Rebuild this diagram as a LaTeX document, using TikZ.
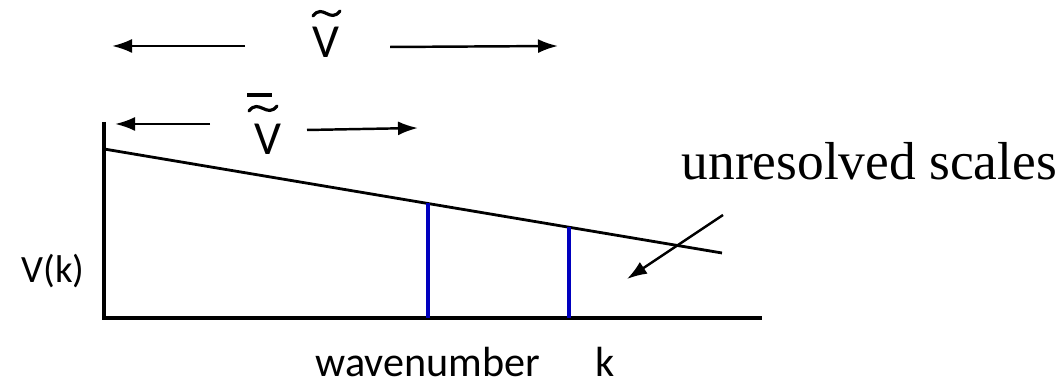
\documentclass[tikz,border=0pt]{standalone}
\usepackage{fontspec}
\setmainfont{Carlito}
\newfontfamily\timesfont{Liberation Serif}
\usetikzlibrary{arrows.meta,calc}

\tikzset{
  axis/.style={line width=0.9pt},
  span/.style={line width=0.7pt, -{Latex[length=2mm, width=1.4mm]}},
  cutoff/.style={line width=1.2pt, blue!75!black},
  lbl/.style={inner sep=0pt, font=\fontsize{12}{14}\selectfont},
  vlbl/.style={inner sep=0pt, font=\fontsize{13.5}{16}\selectfont},
  accent/.style={line width=0.9pt, line cap=round}
}

\begin{document}
\begin{tikzpicture}

\useasboundingbox (0,0) rectangle (10.6,3.85);

% axes
\coordinate (o) at (1.04,0.67);
\coordinate (ytop) at (1.04,2.63);
\coordinate (xend) at (7.62,0.67);
\draw[axis] (ytop) -- (o) -- (xend);

% spectrum
\coordinate (s0) at (1.04,2.36);
\coordinate (s1) at (7.22,1.32);
\draw[line width=0.8pt] (s0) -- coordinate[pos=0.524] (c1)
                                coordinate[pos=0.752] (c2) (s1);

\draw[cutoff] (c1) -- (c1 |- o);   % grid cutoff
\draw[cutoff] (c2) -- (c2 |- o);   % filter cutoff

% labels
\node[lbl, font=\fontsize{11}{13}\selectfont] (vk) at (0.53,1.14) {V(k)};
\node[lbl, anchor=base west] (wn) at (3.15,0.08) {wavenumber\hspace{1.3em}k};
\node[anchor=base west, inner sep=0pt, font=\timesfont\fontsize{15.2}{18}\selectfont]
  (unres) at (6.81,2.05) {unresolved scales};

% first row: V tilde
\node[vlbl] (vt) at (3.255,3.43) {V};
\coordinate (t0) at (3.13,3.69);
\coordinate (t1) at (3.40,3.74);
\draw[accent] (t0) .. controls ($(t0)+(0.10,0.13)$) and ($(t1)+(-0.10,-0.13)$) .. (t1);
\coordinate (a1) at (2.45,3.39);
\coordinate (b1) at (1.12,3.39);
\coordinate (a2) at (3.90,3.38);
\coordinate (b2) at (5.58,3.39);
\draw[span] (a1) -- (b1);
\draw[span] (a2) -- (b2);

% second row: V bar tilde
\node[vlbl] (vbt) at (2.675,2.46) {V};
\coordinate (t2) at (2.49,2.74);
\coordinate (t3) at (2.77,2.79);
\draw[accent] (t2) .. controls ($(t2)+(0.10,0.13)$) and ($(t3)+(-0.10,-0.13)$) .. (t3);
\coordinate (bar0) at (2.47,2.90);
\coordinate (bar1) at (2.72,2.90);
\draw[line width=0.9pt] (bar0) -- (bar1);
\coordinate (a3) at (2.10,2.61);
\coordinate (b3) at (1.15,2.61);
\coordinate (a4) at (3.07,2.55);
\coordinate (b4) at (4.18,2.57);
\draw[span] (a3) -- (b3);
\draw[span] (a4) -- (b4);

% pointer
\coordinate (p0) at (7.23,1.70);
\coordinate (p1) at (6.27,1.06);
\draw[span] (p0) -- (p1);

\end{tikzpicture}
\end{document}
